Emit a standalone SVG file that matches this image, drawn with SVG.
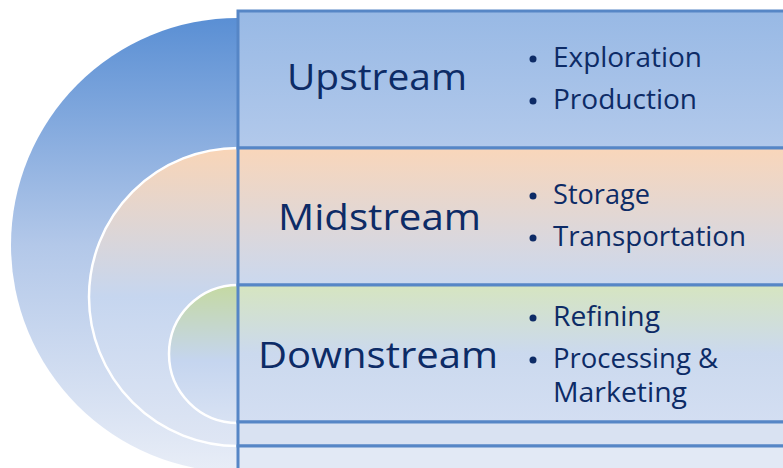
<svg xmlns="http://www.w3.org/2000/svg" width="783" height="468" viewBox="0 0 783 468">
  <defs>
    <linearGradient id="gOuter" x1="0" y1="0" x2="0" y2="1">
      <stop offset="0" stop-color="#5a8fd4"/>
      <stop offset="0.5" stop-color="#b3c8e9"/>
      <stop offset="1" stop-color="#e8edf7"/>
    </linearGradient>
    <linearGradient id="gMid" x1="0" y1="0" x2="0" y2="1">
      <stop offset="0" stop-color="#f9d5b7"/>
      <stop offset="0.5" stop-color="#c6d6ef"/>
      <stop offset="1" stop-color="#dfe6f4"/>
    </linearGradient>
    <linearGradient id="gIn" x1="0" y1="0" x2="0" y2="1">
      <stop offset="0" stop-color="#c5d9a2"/>
      <stop offset="0.55" stop-color="#c5d5ef"/>
      <stop offset="1" stop-color="#d8e2f3"/>
    </linearGradient>
    <linearGradient id="gUp" x1="0" y1="0" x2="0" y2="1">
      <stop offset="0" stop-color="#98b9e5"/>
      <stop offset="1" stop-color="#b2c9eb"/>
    </linearGradient>
    <linearGradient id="gMs" x1="0" y1="0" x2="0" y2="1">
      <stop offset="0" stop-color="#f9d6ba"/>
      <stop offset="1" stop-color="#cad8ef"/>
    </linearGradient>
    <linearGradient id="gDs" x1="0" y1="0" x2="0" y2="1">
      <stop offset="0" stop-color="#d6e5c0"/>
      <stop offset="0.5" stop-color="#cbd9ee"/>
      <stop offset="1" stop-color="#d3def2"/>
    </linearGradient>
    <style>
      .box { stroke: #5686c6; stroke-width: 3; }
      .ring { stroke: #ffffff; stroke-width: 2.5; }
      .head { font-family: "Open Sans", "Noto Sans", sans-serif; font-size: 37px; fill: #0d2b66; }
      .item { font-family: "Open Sans", "Noto Sans", sans-serif; font-size: 27px; fill: #0d2b66; }
      .dot { fill: #0d2b66; }
    </style>
  </defs>

  <g id="arcs">
    <circle cx="238" cy="245" r="227" fill="url(#gOuter)"/>
    <circle cx="238" cy="297" r="149" fill="url(#gMid)" class="ring"/>
    <circle cx="238" cy="354" r="69" fill="url(#gIn)" class="ring"/>
  </g>

  <g id="upstream">
    <rect x="238" y="11" width="560" height="137" fill="url(#gUp)" class="box"/>
    <text class="head" x="287" y="90" textLength="180" lengthAdjust="spacingAndGlyphs">Upstream</text>
    <circle class="dot" cx="533" cy="59" r="3.5"/>
    <text class="item" x="553" y="67" textLength="149" lengthAdjust="spacingAndGlyphs">Exploration</text>
    <circle class="dot" cx="533" cy="101" r="3.5"/>
    <text class="item" x="553" y="109" textLength="144" lengthAdjust="spacingAndGlyphs">Production</text>
  </g>

  <g id="midstream">
    <rect x="238" y="148" width="560" height="137" fill="url(#gMs)" class="box"/>
    <text class="head" x="278" y="230" textLength="203" lengthAdjust="spacingAndGlyphs">Midstream</text>
    <circle class="dot" cx="533" cy="196" r="3.5"/>
    <text class="item" x="553" y="204" textLength="97" lengthAdjust="spacingAndGlyphs">Storage</text>
    <circle class="dot" cx="533" cy="238" r="3.5"/>
    <text class="item" x="553" y="246" textLength="193" lengthAdjust="spacingAndGlyphs">Transportation</text>
  </g>

  <g id="downstream">
    <rect x="238" y="285" width="560" height="137" fill="url(#gDs)" class="box"/>
    <text class="head" x="258" y="368" textLength="240" lengthAdjust="spacingAndGlyphs">Downstream</text>
    <circle class="dot" cx="533" cy="318" r="3.5"/>
    <text class="item" x="553" y="326" textLength="107" lengthAdjust="spacingAndGlyphs">Refining</text>
    <circle class="dot" cx="533" cy="360" r="3.5"/>
    <text class="item" x="553" y="368" textLength="165" lengthAdjust="spacingAndGlyphs">Processing &amp;</text>
    <text class="item" x="553" y="402" textLength="134" lengthAdjust="spacingAndGlyphs">Marketing</text>
  </g>

  <g id="strip1">
    <rect x="238" y="422" width="560" height="24" fill="#d9e2f2" class="box"/>
  </g>
  <g id="strip2">
    <rect x="238" y="446" width="560" height="40" fill="#e2e9f5" class="box"/>
  </g>
</svg>
